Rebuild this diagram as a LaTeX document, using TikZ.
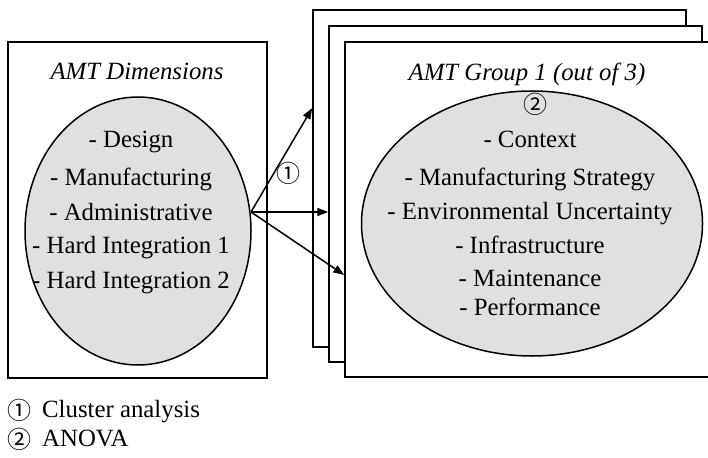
\documentclass[tikz,border=0pt]{standalone}
\usepackage{fontspec}
\setmainfont{Liberation Serif}
\newfontfamily\circfont{Noto Sans CJK JP}
\usetikzlibrary{shapes.geometric,arrows.meta}
\definecolor{ovalfill}{RGB}{224,224,224}
\tikzset{
  frame/.style={draw, fill=white, line width=1.5pt, rectangle, inner sep=0pt},
  oval/.style={draw, fill=ovalfill, line width=1.5pt, ellipse, inner sep=0pt},
  txt/.style={anchor=base, inner sep=0pt, font=\fontsize{24.8}{30}\selectfont},
  ttl/.style={anchor=base, inner sep=0pt, font=\fontsize{24.8}{30}\selectfont\itshape},
  circ/.style={inner sep=0pt, font=\circfont\fontsize{24}{26}\selectfont},
  arr/.style={line width=1.5pt, -{Triangle[length=11pt,width=8pt]}}
}
\begin{document}
\begin{tikzpicture}[x=1pt,y=-1pt]
\useasboundingbox (0,0) rectangle (708,457);
% left box
\node[frame, minimum width=259pt, minimum height=336pt] (lbox) at (137.5,210) {};
\node[oval, minimum width=226pt, minimum height=268pt] (lell) at (138,231) {};
\node[ttl] (ltitle) at (137,80) {AMT Dimensions};
\node[txt] (l1) at (131,148) {- Design};
\node[txt] (l2) at (131,185) {- Manufacturing};
\node[txt] (l3) at (131,220) {- Administrative};
\node[txt] (l4) at (131,253) {- Hard Integration 1};
\node[txt] (l5) at (131,288) {- Hard Integration 2};
% stacked boxes
\node[frame, minimum width=373pt, minimum height=337pt] (b1) at (499.5,178.5) {};
\node[frame, minimum width=373pt, minimum height=336pt] (b2) at (515.5,194) {};
\node[frame, minimum width=373pt, minimum height=335pt] (b3) at (531.5,209.5) {};
\node[oval, minimum width=341pt, minimum height=265pt] (rell) at (532,223.5) {};
\node[ttl] (rtitle) at (527,81) {AMT Group 1 (out of 3)};
\node[circ] (c2) at (535,104) {②};
\node[txt] (r1) at (530,148) {- Context};
\node[txt] (r2) at (530,185) {- Manufacturing Strategy};
\node[txt] (r3) at (530,219) {- Environmental Uncertainty};
\node[txt] (r4) at (530,253) {- Infrastructure};
\node[txt] (r5) at (530,286) {- Maintenance};
\node[txt] (r6) at (530,315) {- Performance};
% arrows
\coordinate (src) at (251,212);
\coordinate (e1) at (b1.west |- 0,108);
\coordinate (e2) at (b2.west |- 0,212);
\coordinate (e3) at (b3.west |- 0,275);
\draw[arr] (src) -- (e1);
\draw[arr] (src) -- (e2);
\draw[arr] (src) -- (e3);
\node[circ] (c1) at (288,173) {①};
% legend
\node[circ] (k1) at (20,410) {①};
\node[txt, anchor=base west] (k1t) at (42,417) {Cluster analysis};
\node[circ] (k2) at (20,439) {②};
\node[txt, anchor=base west] (k2t) at (42,446) {ANOVA};
\end{tikzpicture}
\end{document}
